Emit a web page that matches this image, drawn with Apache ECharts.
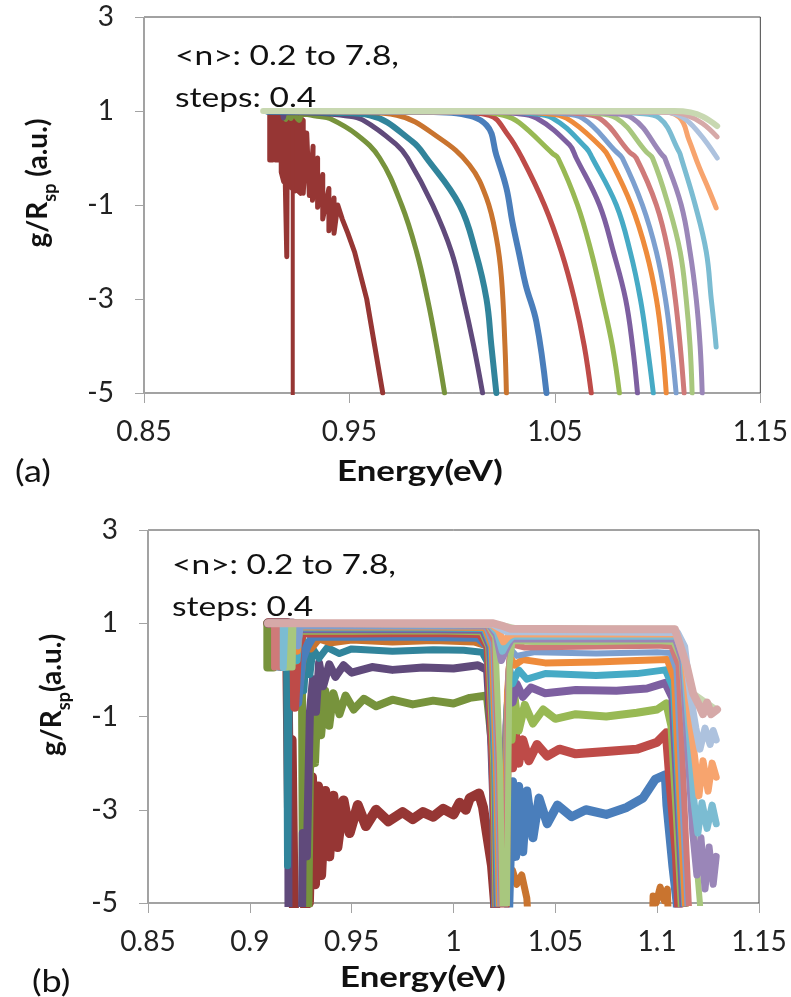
<!DOCTYPE html>
<html><head><meta charset="utf-8">
<script src="https://cdn.jsdelivr.net/npm/echarts@6/dist/echarts.min.js"></script>
<style>html,body{margin:0;padding:0;background:#fff}#c{width:791px;height:997px}</style>
</head><body><div id="c"></div>
<script>
// ---------- tick labels ----------
const aXLabels = ['0.85','0.95','1.05','1.15'];
const bXLabels = ['0.85','0.9','0.95','1','1.05','1.1','1.15'];
const yLabels  = ['-5','-3','-1','1','3'];

// ---------- panel (a): [energy, g/Rsp] ----------
const a01 = [[0.9112,0.98],[0.9112,-0.04],[0.9126,-0.04],[0.9126,0.98],[0.914,0.98],[0.914,-0.04],[0.9154,-0.04],[0.9154,0.98],[0.9168,0.98],[0.9168,-0.3],[0.918,-0.5],[0.918,0.95],[0.9188,0.9],[0.9188,-0.6],[0.9195,-2.1],[0.9198,0.9],[0.921,0.9],[0.921,-0.6],[0.9235,-0.7],[0.9235,0.95],[0.925,0.95],[0.925,-0.7],[0.9262,-0.75],[0.9262,0.85],[0.9275,0.8],[0.9275,-0.75],[0.9292,0.53],[0.9305,-0.8],[0.9323,0.25],[0.932,-0.9],[0.9345,0.0],[0.9345,-1.05],[0.937,-0.35],[0.937,-1.3],[0.94,-0.65],[0.94,-1.55],[0.9425,-0.85],[0.9425,-1.6],[0.9443,-1.0],[0.9465,-1.3],[0.9492,-1.6],[0.9525,-2],[0.9584,-3],[0.9623,-4],[0.9662,-5]];
const a01spike = [[0.9224,1],[0.9224,-5.2]];
const a02 = [[0.91,0.99],[0.918,0.97],[0.919,0.82],[0.92,0.96],[0.9215,0.84],[0.9225,0.95],[0.9255,0.8],[0.927,0.93],[0.9355,0.88],[0.9404,0.84],[0.9535,0.5],[0.9647,0],[0.9754,-1],[0.9827,-2],[0.988,-3],[0.9924,-4],[0.9963,-5]];
const a03 = [[0.91,0.99],[0.9175,0.98],[0.9178,0.85],[0.919,0.97],[0.935,0.95],[0.948,0.9],[0.9564,0.81],[0.973,0.28],[0.9783,0],[0.9905,-1],[0.9997,-2],[1.0055,-3],[1.0105,-4],[1.0148,-5]];
const a04 = [[0.91,0.99],[0.945,0.96],[0.9598,0.91],[0.9807,0.35],[0.9875,0],[1.0036,-1],[1.0114,-2],[1.0167,-3],[1.0191,-4],[1.0215,-5]];
const a05 = [[0.91,0.99],[0.955,0.97],[0.973,0.91],[0.9939,0.42],[1.0084,-0.15],[1.0167,-0.85],[1.0215,-1.7],[1.024,-2.55],[1.0257,-4],[1.0264,-5]];
const a06 = [[0.91,0.99],[0.99,0.98],[1.0021,0.95],[1.0167,0.7],[1.0215,0.06],[1.0264,-0.64],[1.0293,-1.36],[1.0327,-2.06],[1.0358,-2.7],[1.041,-3.49],[1.0459,-5]];
const a07 = [[0.91,0.99],[1.0,0.98],[1.018,0.91],[1.027,0.5],[1.034,0],[1.0449,-1],[1.0532,-2],[1.0595,-3],[1.0643,-4],[1.0677,-5]];
const a08 = [[0.91,0.99],[1.01,0.98],[1.025,0.91],[1.0327,0.75],[1.0488,0.1],[1.0515,0],[1.061,-1],[1.0677,-2],[1.0731,-3],[1.078,-4],[1.0814,-5]];
const a09 = [[0.91,0.99],[1.018,0.98],[1.03,0.95],[1.041,0.85],[1.0571,0.28],[1.0604,0],[1.0717,-1],[1.0785,-2],[1.0844,-3],[1.0878,-4],[1.0902,-5]];
const a10 = [[0.91,0.99],[1.025,0.98],[1.037,0.95],[1.0488,0.85],[1.0653,0.21],[1.0682,0],[1.0799,-1],[1.0867,-2],[1.0916,-3],[1.095,-4],[1.0979,-5]];
const a11 = [[0.91,0.99],[1.03,0.98],[1.044,0.95],[1.0556,0.85],[1.0731,0.21],[1.0765,0],[1.0872,-1],[1.0945,-2],[1.0994,-3],[1.1023,-4],[1.1042,-5]];
const a12 = [[0.91,0.99],[1.038,0.98],[1.052,0.95],[1.0634,0.85],[1.0799,0.13],[1.0828,0],[1.0926,-1],[1.0994,-2],[1.1038,-3],[1.1067,-4],[1.109,-5]];
const a13 = [[0.91,0.99],[1.045,0.98],[1.06,0.95],[1.0716,0.85],[1.0862,0.13],[1.0896,0],[1.0994,-1],[1.1052,-2],[1.1086,-3],[1.111,-4],[1.1129,-5]];
const a14 = [[0.91,0.99],[1.052,0.98],[1.068,0.95],[1.0799,0.85],[1.0945,0.13],[1.0975,0],[1.1052,-1],[1.111,-2],[1.1139,-3],[1.1158,-4],[1.1168,-5]];
const a15 = [[0.91,0.99],[1.06,0.98],[1.076,0.95],[1.0877,0.85],[1.1023,0.06],[1.1035,0],[1.1115,-1],[1.1158,-2],[1.1188,-3],[1.1207,-4],[1.1217,-5]];
const a16 = [[0.91,0.99],[1.075,0.98],[1.09,0.95],[1.1008,0.85],[1.1105,0.13],[1.1115,0],[1.1183,-1],[1.1237,-2],[1.1261,-3],[1.1276,-3.6],[1.1285,-4.02]];
const a17 = [[0.91,0.99],[1.1,0.98],[1.1105,0.87],[1.1153,0.38],[1.1202,-0.19],[1.125,-0.68],[1.1285,-1.06]];
const a18 = [[0.91,0.99],[1.103,0.98],[1.112,0.87],[1.1202,0.53],[1.129,0.0]];
const a19 = [[0.91,0.99],[1.106,0.98],[1.114,0.91],[1.1217,0.74],[1.129,0.45]];
const a20 = [[0.908,1],[1.108,1],[1.116,0.97],[1.122,0.88],[1.129,0.68]];

// ---------- panel (b) ----------
const b01 = [[0.909,1],[0.9125,1],[0.9125,0.1],[0.9135,0.1],[0.9135,1],[0.9185,1],[0.9185,-0.1],[0.9195,-4.1],[0.9205,-1.5],[0.9212,-4.0],[0.922,-6],[0.927,-6],[0.9275,-2.4],[0.929,-5],[0.9305,-2.3],[0.932,-4.6],[0.9335,-2.5],[0.935,-4.4],[0.937,-2.6],[0.939,-4.0],[0.941,-2.7],[0.943,-3.8],[0.946,-2.8],[0.949,-3.5],[0.953,-2.9],[0.957,-3.35],[0.962,-3.0],[0.968,-3.25],[0.975,-3.05],[0.98,-3.2],[0.985,-3.05],[0.99,-3.15],[0.995,-2.98],[1.0,-3.1],[1.003,-2.85],[1.006,-3.0],[1.008,-2.75],[1.0125,-2.65],[1.0145,-2.95],[1.0164,-3.5],[1.0189,-4.2],[1.0204,-5],[1.021,-6]];
const b02 = [[0.9086,1],[0.9086,0.05],[0.9096,0.05],[0.9096,1],[0.9106,1],[0.9106,0.05],[0.9116,0.05],[0.9116,1],[0.9256,1],[0.9256,-0.3],[0.9262,-6],[0.9285,-6],[0.9295,-2.2],[0.931,-0.3],[0.932,-2.0],[0.9335,-0.4],[0.935,-1.4],[0.937,-0.45],[0.939,-1.2],[0.941,-0.5],[0.944,-0.95],[0.947,-0.55],[0.951,-0.85],[0.956,-0.62],[0.962,-0.78],[0.97,-0.64],[0.98,-0.74],[0.99,-0.66],[1.0,-0.72],[1.008,-0.6],[1.0164,-0.55],[1.0189,-1.6],[1.0214,-3.5],[1.0228,-5],[1.0235,-6]];
const b03 = [[0.909,1],[0.9185,1],[0.9188,-0.1],[0.919,-6],[0.9255,-6],[0.926,-3.5],[0.928,-4.0],[0.9295,-0.9],[0.931,-0.2],[0.9325,-0.9],[0.934,0.15],[0.936,-0.35],[0.939,0.12],[0.942,-0.15],[0.946,0.1],[0.95,-0.06],[0.96,0.06],[0.97,0.0],[0.985,0.05],[1.0,0.03],[1.012,0.1],[1.0165,0.0],[1.0185,-1.5],[1.0205,-4],[1.0215,-6]];
const b04 = [[0.909,1],[0.918,1],[0.9185,-4.2],[0.9195,0.2],[0.925,0.2],[0.9265,-0.45],[0.928,0.5],[0.9295,-0.1],[0.931,0.45],[0.934,0.25],[0.938,0.48],[0.944,0.35],[0.95,0.45],[0.97,0.4],[0.99,0.43],[1.005,0.42],[1.014,0.38],[1.0175,0.1],[1.0195,-2],[1.021,-4.5],[1.022,-6]];
const b05 = [[0.909,1],[0.921,1],[0.922,-0.4],[0.9235,0.3],[0.925,-0.2],[0.927,0.55],[0.93,0.45],[0.934,0.66],[0.94,0.58],[0.95,0.64],[0.97,0.6],[0.99,0.63],[1.01,0.6],[1.0175,0.5],[1.0205,-1],[1.0225,-4],[1.0245,-4.3],[1.027,-4.6],[1.029,-4.3],[1.031,-4.6],[1.0335,-4.4],[1.036,-4.9],[1.0376,-6],[1.0975,-6],[1.098,-4.85],[1.0995,-5.0],[1.1015,-4.66],[1.1035,-4.95],[1.105,-4.7],[1.106,-6]];
const b06 = [[0.909,1],[0.921,1],[0.9225,0.3],[0.9235,-0.7],[0.9255,0.2],[0.928,0.5],[0.931,0.72],[0.95,0.72],[0.98,0.72],[1.012,0.7],[1.017,0.5],[1.0195,-2],[1.021,-6],[1.0265,-6],[1.0275,-4.5],[1.029,-2.4],[1.0305,-4.0],[1.032,-2.5],[1.034,-3.9],[1.036,-2.6],[1.039,-3.6],[1.042,-2.75],[1.046,-3.3],[1.051,-2.9],[1.058,-3.15],[1.065,-3.0],[1.075,-3.1],[1.085,-2.95],[1.093,-2.75],[1.099,-2.35],[1.104,-2.25],[1.1048,-2.9],[1.1077,-4.2],[1.1098,-5],[1.111,-6]];
const b07 = [[0.909,1],[0.9215,1],[0.922,-0.8],[0.9235,0.5],[0.926,0.79],[0.95,0.79],[0.99,0.8],[1.013,0.78],[1.017,0.5],[1.0195,-2],[1.0215,-6],[1.025,-6],[1.0262,-2.2],[1.0275,-1.3],[1.029,-2.1],[1.0305,-1.4],[1.032,-2.0],[1.034,-1.5],[1.037,-1.95],[1.041,-1.6],[1.046,-1.85],[1.052,-1.7],[1.06,-1.8],[1.075,-1.75],[1.09,-1.7],[1.1,-1.55],[1.1045,-1.35],[1.1065,-2.5],[1.1095,-4],[1.1115,-6]];
const b08 = [[0.909,1],[0.9215,1],[0.9225,0.2],[0.924,0.84],[0.95,0.84],[0.99,0.85],[1.014,0.83],[1.0175,0.5],[1.02,-2],[1.0215,-6],[1.0245,-6],[1.0258,-1.6],[1.027,-0.45],[1.0285,-1.5],[1.03,-0.6],[1.032,-1.3],[1.035,-0.75],[1.039,-1.15],[1.044,-0.85],[1.05,-1.05],[1.06,-0.95],[1.075,-1.0],[1.09,-0.92],[1.1,-0.85],[1.1045,-0.72],[1.107,-1.2],[1.1095,-3],[1.112,-5],[1.113,-6]];
const b09 = [[0.909,1],[0.9215,1],[0.9225,0.5],[0.924,0.87],[0.99,0.87],[1.0145,0.86],[1.018,0.5],[1.0205,-2],[1.022,-6],[1.0245,-6],[1.026,-1.2],[1.0275,-0.25],[1.029,-0.7],[1.031,-0.3],[1.034,-0.58],[1.038,-0.38],[1.045,-0.5],[1.06,-0.43],[1.08,-0.45],[1.095,-0.4],[1.104,-0.28],[1.1075,-0.6],[1.1105,-3],[1.1128,-5],[1.114,-6]];
const b10 = [[0.909,1],[0.9148,1],[0.9148,0.05],[0.9158,0.05],[0.9158,1],[0.9168,1],[0.9168,0.05],[0.9178,0.05],[0.9178,1],[0.9222,1],[0.9232,0.2],[0.9245,0.9],[0.99,0.9],[1.015,0.89],[1.0185,0.5],[1.0205,-2],[1.0225,-6],[1.0248,-6],[1.0262,-0.9],[1.0275,0.05],[1.029,-0.3],[1.032,0.0],[1.036,-0.2],[1.045,-0.08],[1.07,-0.12],[1.09,-0.08],[1.104,0.0],[1.108,-0.4],[1.111,-3],[1.1135,-5],[1.1145,-6]];
const b11 = [[0.909,1],[0.9223,1],[0.9233,0.4],[0.9245,0.92],[0.99,0.92],[1.0155,0.91],[1.019,0.5],[1.021,-2],[1.023,-6],[1.025,-6],[1.0265,-0.5],[1.0278,0.28],[1.03,0.1],[1.034,0.22],[1.045,0.15],[1.07,0.17],[1.09,0.2],[1.105,0.22],[1.1085,-0.2],[1.1115,-3],[1.1138,-5],[1.115,-6]];
const b12 = [[0.909,1],[0.9136,1],[0.9136,0.05],[0.9142,0.05],[0.9142,1],[0.9226,1],[0.9236,0.5],[0.925,0.935],[1.016,0.93],[1.0195,0.5],[1.0215,-2],[1.0235,-6],[1.0252,-6],[1.0268,-0.2],[1.028,0.45],[1.031,0.3],[1.04,0.38],[1.07,0.35],[1.1,0.38],[1.1065,0.36],[1.1095,0],[1.1125,-3],[1.1148,-5],[1.116,-6]];
const b13 = [[0.909,1],[0.9119,1],[0.9119,0.05],[0.9127,0.05],[0.9127,1],[0.9144,1],[0.9144,0.05],[0.9152,0.05],[0.9152,1],[1.0165,0.95],[1.02,0.6],[1.0222,-2],[1.024,-6],[1.0255,-6],[1.027,0.0],[1.0285,0.55],[1.035,0.48],[1.07,0.5],[1.1,0.52],[1.107,0.5],[1.1105,0.1],[1.1135,-3],[1.1155,-5],[1.117,-6]];
const b14 = [[0.909,1],[0.9178,1],[0.9178,0.05],[0.9186,0.05],[0.9186,1],[0.9194,1],[0.9194,0.05],[0.9202,0.05],[0.9202,1],[0.921,1],[0.921,0.05],[0.9214,0.05],[0.9214,1],[1.017,0.96],[1.0205,0.7],[1.0228,-2],[1.0245,-6],[1.026,-6],[1.0275,0.1],[1.029,0.62],[1.04,0.6],[1.07,0.6],[1.1,0.62],[1.108,0.6],[1.112,0.2],[1.1155,-2],[1.119,-4],[1.121,-5],[1.122,-6]];
const b15 = [[0.909,1],[1.0175,0.97],[1.021,0.75],[1.0235,0.2],[1.026,0.45],[1.0285,0.66],[1.07,0.66],[1.109,0.66],[1.1125,0.2],[1.1155,-2],[1.1175,-3.5],[1.1195,-4.4],[1.1215,-3.6],[1.1235,-4.7],[1.1255,-3.8],[1.1275,-4.6],[1.129,-4.0]];
const b16 = [[0.909,1],[0.9164,1],[0.9164,0.05],[0.9172,0.05],[0.9172,1],[1.018,0.975],[1.0215,0.8],[1.024,0.4],[1.0265,0.6],[1.029,0.72],[1.07,0.72],[1.1095,0.72],[1.113,0.3],[1.116,-1.5],[1.118,-2.8],[1.12,-3.5],[1.122,-2.85],[1.1245,-3.4],[1.127,-2.9],[1.129,-3.3]];
const b17 = [[0.909,1],[1.0185,0.98],[1.022,0.85],[1.0245,0.6],[1.027,0.72],[1.0295,0.77],[1.07,0.77],[1.11,0.77],[1.1135,0.3],[1.1165,-1.2],[1.1185,-1.9],[1.1205,-2.7],[1.1225,-1.95],[1.125,-2.6],[1.127,-2.0],[1.129,-2.3]];
const b18 = [[0.909,1],[1.019,0.985],[1.0225,0.9],[1.026,0.82],[1.07,0.81],[1.11,0.8],[1.1135,0.5],[1.1165,-0.6],[1.119,-1.25],[1.121,-1.7],[1.1235,-1.25],[1.126,-1.6],[1.1275,-1.3],[1.129,-1.5]];
const b19 = [[0.909,1],[1.0195,1],[1.025,0.95],[1.03,0.9],[1.1087,0.88],[1.1146,0.1],[1.1176,-0.5],[1.129,-0.85]];
const b20 = [[0.909,1],[1.0195,1.0],[1.0235,0.95],[1.028,0.88],[1.07,0.87],[1.1087,0.87],[1.1146,0.07],[1.1176,-0.5],[1.1205,-0.75],[1.1225,-0.95],[1.1245,-0.7],[1.1265,-0.95],[1.1294,-0.85]];

// ---------- colours ----------
const C = {
  darkRed:'#963634', darkGreen:'#77933C', darkPurple:'#604A7B', darkTeal:'#31849B', darkOrange:'#C9742F',
  blue:'#4A7EBB', red:'#BE4B48', green:'#98B954', purple:'#7D5FA0', aqua:'#46AAC5', orange:'#EE8B3B',
  lightBlue:'#7C9FCF', pinkRed:'#CF7A79', lightGreen:'#A8C77E', lightPurple:'#9A86B8', lightAqua:'#7BBCD2',
  lightOrange:'#F7A46E', lighterBlue:'#ADC2DE', lighterRed:'#D6A9A8', topGreen:'#C8D8B1'
};

const aSet = [
  [a01,C.darkRed,5],[a01spike,C.darkRed,4],[a02,C.darkGreen,5],[a03,C.darkPurple,5],[a04,C.darkTeal,6],[a05,C.darkOrange,5],
  [a06,C.blue,6],[a07,C.red,5],[a08,C.green,5],[a09,C.purple,5],[a10,C.aqua,5],[a11,C.orange,5],
  [a12,C.lightBlue,5],[a13,C.pinkRed,5],[a14,C.lightGreen,5],[a15,C.lightPurple,5],[a16,C.lightAqua,5],
  [a17,C.lightOrange,5],[a18,C.lighterBlue,5],[a19,C.lighterRed,5],[a20,C.topGreen,6]
];
const aSmooth = [false,false,0.4,0.4,0.4,0.4,0.4,0.4,0.4,0.4,0.4,0.4,0.4,0.4,0.4,0.4,0.4,0.4,0.4,0.4,0.4];
const bSet = [
  [b01,C.darkRed,10],[b02,C.darkGreen,8],[b03,C.darkPurple,8],[b04,C.darkTeal,7],[b05,C.darkOrange,7],
  [b06,C.blue,9],[b07,C.red,9],[b08,C.green,8],[b09,C.purple,8],[b10,C.aqua,7],[b11,C.orange,7],
  [b12,C.lightBlue,6],[b13,C.pinkRed,6],[b14,C.lightGreen,6],[b15,C.lightPurple,7],[b16,C.lightAqua,7],
  [b17,C.lightOrange,7],[b18,C.lighterBlue,7],[b19,C.topGreen,6],[b20,C.lighterRed,8]
];

const series = [];
aSet.forEach((s,i)=>series.push({type:'line',xAxisIndex:0,yAxisIndex:0,data:s[0],showSymbol:false,symbol:'none',
  smooth:aSmooth[i],lineStyle:{color:s[1],width:s[2],cap:'round',join:'round'},z:2+i*0.01,silent:true}));
bSet.forEach((s,i)=>series.push({type:'line',xAxisIndex:1,yAxisIndex:1,data:s[0],showSymbol:false,symbol:'none',
  smooth:false,lineStyle:{color:s[1],width:s[2],cap:'round',join:'round'},z:2+i*0.01,silent:true}));

const axisGray = '#A3A3A3';
const labelFont = {fontFamily:'Lato',fontSize:28,color:'#222'};
function xAxisDef(idx, interval, labels){
  return {gridIndex:idx,type:'value',min:0.85,max:1.15,interval:interval,
    axisLine:{show:true,onZero:false,lineStyle:{color:axisGray,width:1}},
    axisTick:{show:true,length:10,lineStyle:{color:axisGray}},
    axisLabel:Object.assign({margin:25,formatter:v=>labels[Math.round((v-0.85)/interval)]},labelFont),
    splitLine:{show:false}};
}
function yAxisDef(idx){
  return {gridIndex:idx,type:'value',min:-5,max:3,interval:2,
    axisLine:{show:true,onZero:false,lineStyle:{color:axisGray,width:1}},
    axisTick:{show:true,length:9,lineStyle:{color:axisGray}},
    axisLabel:Object.assign({margin:30,formatter:v=>yLabels[Math.round((v+5)/2)]},labelFont),
    splitLine:{show:false}};
}

const chart = echarts.init(document.getElementById('c'),null,{renderer:'canvas'});
const txt = (x,y,text,font,sx,align)=>({type:'text',x:x,y:y,z:1,scaleX:sx||1,
  style:{text:text,font:font,fill:'#111',verticalAlign:'middle',align:align||'left'}});
const yTitle = (x,y,text)=>({type:'text',x:x,y:y,rotation:Math.PI/2,z:10,
  style:{text:text,align:'center',verticalAlign:'middle',fill:'#111',
    rich:{m:{font:'bold 28px Lato',lineHeight:42,fill:'#111'},s:{font:'bold 18px Lato',lineHeight:19,verticalAlign:'bottom',fill:'#111'}}}});

chart.setOption({
  animation:false,
  backgroundColor:'#fff',
  grid:[
    {left:144,top:17,width:617,height:376,show:true,borderColor:'#444',borderWidth:1},
    {left:148,top:530,width:611,height:373,show:true,borderColor:'#444',borderWidth:1}
  ],
  xAxis:[xAxisDef(0,0.1,aXLabels),xAxisDef(1,0.05,bXLabels)],
  yAxis:[yAxisDef(0),yAxisDef(1)],
  series:series,
  graphic:[
    txt(175,57,'<n>: 0.2 to 7.8,','26px Lato',1.29),
    txt(175,99,'steps: 0.4','26px Lato',1.29),
    txt(172,566,'<n>: 0.2 to 7.8,','26px Lato',1.29),
    txt(172,608,'steps: 0.4','26px Lato',1.29),
    txt(15,472,'(a)','30px Lato',1.2),
    txt(32,982,'(b)','30px Lato',1.2),
    txt(420,472,'Energy(eV)','bold 29px Lato',1.2,'center'),
    txt(423,978,'Energy(eV)','bold 29px Lato',1.2,'center'),
    yTitle(38,183,'{m|g/R}{s|sp}{m| (a.u.)}'),
    yTitle(52,695,'{m|g/R}{s|sp}{m|(a.u.)}')
  ]
});
</script></body></html>
